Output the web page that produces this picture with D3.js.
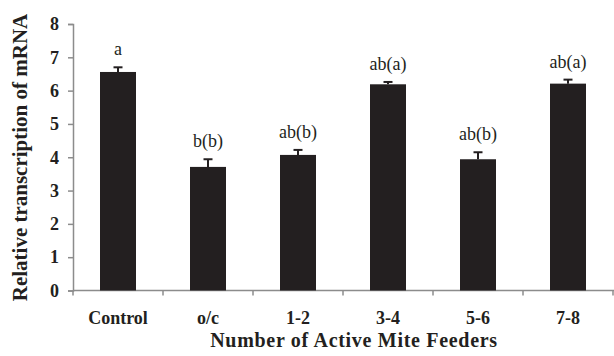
<!DOCTYPE html>
<html>
<head>
<meta charset="utf-8">
<script src="https://cdn.jsdelivr.net/npm/d3@7"></script>
<style>
  body { margin: 0; background: #fff; }
  svg { display: block; font-family: "Liberation Serif", "Times New Roman", serif; }
</style>
</head>
<body>
<svg id="chart" width="614" height="356"></svg>
<script>
// values
const groups = ["Control", "o/c", "1-2", "3-4", "5-6", "7-8"];
const means = [6.56, 3.71, 4.07, 6.19, 3.94, 6.21];
const errors = [0.14, 0.23, 0.15, 0.07, 0.21, 0.12];
const letters = ["a", "b(b)", "ab(b)", "ab(a)", "ab(b)", "ab(a)"];
const yTicks = [0, 1, 2, 3, 4, 5, 6, 7, 8];

const svg = d3.select("#chart");
const axisColor = "#8c8c8c";
const ink = "#231f20";
const serif = "'Liberation Serif', 'Times New Roman', serif";

const x = d3.scaleBand().domain(groups).range([73, 613]).paddingInner(0.6).paddingOuter(0.3);
const y = d3.scaleLinear().domain([0, 8]).range([290.5, 24]);

// y axis
const yAxis = svg.append("g")
  .attr("transform", "translate(73,0)")
  .call(d3.axisLeft(y).tickValues(yTicks).tickSize(5).tickPadding(9));
yAxis.select(".domain").attr("stroke", axisColor).attr("stroke-width", 1.5);
yAxis.selectAll(".tick line").attr("stroke", axisColor).attr("stroke-width", 1.5);
yAxis.selectAll(".tick text")
  .attr("fill", ink)
  .style("font-family", serif)
  .style("font-size", "18px")
  .style("font-weight", "bold");

// x axis: ticks sit between bars
const step = x.step();
const bounds = d3.range(groups.length + 1).map(i => 73 + i * step);
const xg = svg.append("g");
xg.append("line")
  .attr("x1", 73).attr("x2", 614)
  .attr("y1", y(0)).attr("y2", y(0))
  .attr("stroke", axisColor).attr("stroke-width", 1.5);
xg.selectAll("line.tk").data(bounds).join("line")
  .attr("class", "tk")
  .attr("x1", d => d).attr("x2", d => d)
  .attr("y1", y(0)).attr("y2", y(0) + 5)
  .attr("stroke", axisColor).attr("stroke-width", 1.5);
xg.selectAll("text").data(groups).join("text")
  .attr("x", d => x(d) + x.bandwidth() / 2)
  .attr("y", 324)
  .attr("text-anchor", "middle")
  .attr("fill", ink)
  .style("font-size", "18px")
  .style("font-weight", "bold")
  .text(d => d);

// bars
svg.append("g").selectAll("rect").data(groups).join("rect")
  .attr("x", d => x(d))
  .attr("width", x.bandwidth())
  .attr("y", (d, i) => y(means[i]))
  .attr("height", (d, i) => y(0) - y(means[i]))
  .attr("fill", ink);

// error bars (upper only)
const eb = svg.append("g").attr("stroke", ink).attr("stroke-width", 2);
groups.forEach((g, i) => {
  const cx = x(g) + x.bandwidth() / 2;
  eb.append("line").attr("x1", cx).attr("x2", cx)
    .attr("y1", y(means[i])).attr("y2", y(means[i] + errors[i]));
  eb.append("line").attr("x1", cx - 4.5).attr("x2", cx + 4.5)
    .attr("y1", y(means[i] + errors[i])).attr("y2", y(means[i] + errors[i]));
});

// significance letters
svg.append("g").selectAll("text").data(groups).join("text")
  .attr("x", d => x(d) + x.bandwidth() / 2)
  .attr("y", (d, i) => y(means[i] + errors[i]) - 12)
  .attr("text-anchor", "middle")
  .attr("fill", ink)
  .style("font-size", "18px")
  .text((d, i) => letters[i]);

// axis titles
svg.append("text")
  .attr("x", 354).attr("y", 347)
  .attr("text-anchor", "middle")
  .attr("fill", ink)
  .style("font-size", "20px")
  .style("font-weight", "bold")
  .style("letter-spacing", "0.7px")
  .text("Number of Active Mite Feeders");

svg.append("text")
  .attr("transform", "translate(27,157.5) rotate(-90)")
  .attr("text-anchor", "middle")
  .attr("fill", ink)
  .style("font-size", "21px")
  .style("font-weight", "bold")
  .text("Relative transcription of mRNA");
</script>
</body>
</html>
